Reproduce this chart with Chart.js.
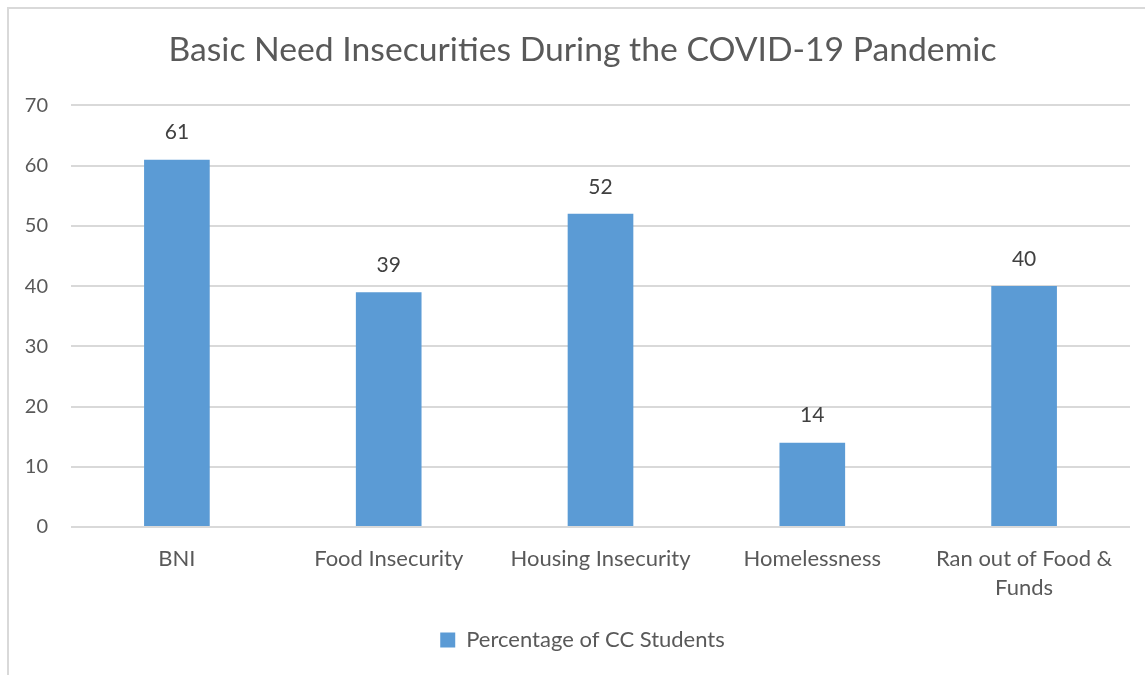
<!DOCTYPE html>
<html>
<head>
<meta charset="utf-8">
<title>Basic Need Insecurities During the COVID-19 Pandemic</title>
<script src="https://cdn.jsdelivr.net/npm/chart.js@4"></script>
<style>
  html, body { margin: 0; padding: 0; background: #fff; overflow: hidden; }
  #frame {
    position: absolute; left: 7px; top: 7px;
    width: 1300px; height: 800px;
    border: 2px solid #d9d9d9;
  }
  #wrap { position: absolute; left: 0; top: 0; width: 1145px; height: 675px; }
</style>
</head>
<body>
<div id="frame"></div>
<div id="wrap"><canvas id="needsChart"></canvas></div>
<script>
// categories and values (percent of CC students)
const categories = ["BNI", "Food Insecurity", "Housing Insecurity", "Homelessness", ["Ran out of Food &", "Funds"]];
const percentages = [61, 39, 52, 14, 40];
const yTicks = [0, 10, 20, 30, 40, 50, 60, 70];

const textColor = "#595959";
const fontFamily = "Lato, 'Liberation Sans', sans-serif";

// write each bar's value above it
const valueLabels = {
  id: "valueLabels",
  afterDatasetsDraw(chart) {
    const ctx = chart.ctx;
    const meta = chart.getDatasetMeta(0);
    ctx.save();
    ctx.fillStyle = "#404040";
    ctx.font = "21px " + fontFamily;
    ctx.textAlign = "center";
    ctx.textBaseline = "middle";
    meta.data.forEach((bar, i) => {
      ctx.fillText(percentages[i], bar.x, bar.y - 27);
    });
    ctx.restore();
  },
};

const ctx = document.getElementById("needsChart").getContext("2d");
new Chart(ctx, {
  type: "bar",
  data: {
    labels: categories,
    datasets: [
      {
        label: "Percentage of CC Students",
        data: percentages,
        backgroundColor: "#5b9bd5",
        barPercentage: 0.31,
        categoryPercentage: 1,
      },
    ],
  },
  options: {
    responsive: true,
    maintainAspectRatio: false,
    animation: false,
    layout: { padding: { left: 20, right: 0, top: 0, bottom: 14 } },
    plugins: {
      title: {
        display: true,
        text: "Basic Need Insecurities During the COVID-19 Pandemic",
        color: textColor,
        font: { family: fontFamily, size: 33.7, weight: "normal" },
        padding: { top: 30, bottom: 35 },
      },
      legend: {
        position: "bottom",
        labels: {
          color: textColor,
          font: { family: fontFamily, size: 22 },
          boxWidth: 15,
          boxHeight: 15,
          padding: 10,
        },
      },
      tooltip: { enabled: false },
    },
    scales: {
      x: {
        grid: { display: false },
        border: { display: false },
        ticks: {
          color: textColor,
          font: { family: fontFamily, size: 22, lineHeight: 1.32 },
          padding: 9,
          maxRotation: 0,
        },
        afterFit(scale) { scale.height = 92; },
      },
      y: {
        min: 0,
        max: 70,
        afterBuildTicks(scale) { scale.ticks = yTicks.map(v => ({ value: v })); },
        grid: { color: "#d9d9d9", lineWidth: 2, drawTicks: false },
        border: { display: false },
        ticks: {
          color: textColor,
          font: { family: fontFamily, size: 20 },
          padding: 23,
        },
        afterFit(scale) { scale.width = 51; },
      },
      // empty strip on the right of the plot
      yRight: {
        type: "linear",
        position: "right",
        grid: { display: false },
        border: { display: false },
        ticks: { display: false },
        afterFit(scale) { scale.width = 15; },
      },
    },
  },
  plugins: [valueLabels],
});
</script>
</body>
</html>
